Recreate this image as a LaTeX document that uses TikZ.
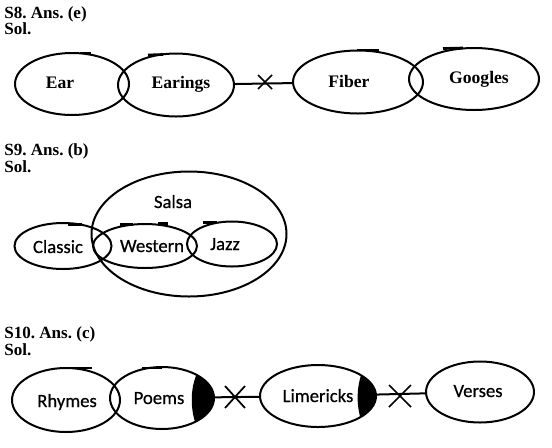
\documentclass[tikz,border=0pt]{standalone}
\usepackage{fontspec}
\setmainfont{Liberation Serif}
\newfontfamily\calib[FakeBold=0.6]{Carlito}
\usetikzlibrary{shapes.geometric}
\frenchspacing
\begin{document}
\begin{tikzpicture}[x=0.75pt,y=-0.75pt,
  ell/.style 2 args={draw, ellipse, line width=1.5pt, inner sep=0pt,
     minimum width=#1*0.75pt, minimum height=#2*0.75pt},
  head/.style={anchor=base west, inner sep=0pt, font=\bfseries\fontsize{12.8}{13}\selectfont},
  serlab/.style={anchor=base, inner sep=0pt, font=\bfseries\fontsize{13.2}{14}\selectfont},
  sanslab/.style={anchor=base, inner sep=0pt, font=\calib\fontsize{14}{15}\selectfont},
  link/.style={line width=1.5pt},
  cross/.style={line width=1.3pt},
  tick/.style={line width=2pt}]
\useasboundingbox (0,0) rectangle (552,447);

% ---------- S8 ----------
\node[head] (h8) at (4,18) {S8. Ans. (e)};
\node[head] (s8) at (4,34) {Sol.};
\node[ell={114}{62}] (ear) at (72,84) {};
\node[ell={116}{63}] (earings) at (176,85) {};
\node[ell={130}{63}] (fiber) at (358,82) {};
\node[ell={130}{62}] (googles) at (474,79) {};
\node[serlab] (earT) at (60,88) {Ear};
\node[serlab] (earingsT) at (181,88) {Earings};
\node[serlab] (fiberT) at (349,87) {Fiber};
\node[serlab] (googlesT) at (479,83) {Googles};
\draw[link] (earings) -- (fiber);
\coordinate (x8) at (265,82);
\draw[cross] (x8) ++(-7,-7) -- ++(14,14);
\draw[cross] (x8) ++(-7,7) -- ++(14,-14);
\draw[tick] (80,53) -- (91,53);
\draw[tick] (148,55) -- (163,54.5);
\draw[tick] (357,50) -- (379,50);
\draw[tick] (443,48.5) -- (463,48);

% ---------- S9 ----------
\node[head] (h9) at (4,155) {S9. Ans. (b)};
\node[head] (s9) at (4,172) {Sol.};
\node[ell={195}{125}] (salsa) at (189,234) {};
\node[ell={97}{46}] (classic) at (63,246) {};
\node[ell={104}{44}] (western) at (145,246) {};
\node[ell={90}{45}] (jazz) at (232,244) {};
\node[sanslab] (salsaT) at (173,208) {Salsa};
\node[sanslab] (classicT) at (58,253) {Classic};
\node[sanslab] (westernT) at (152,252) {Western};
\node[sanslab] (jazzT) at (225,250) {Jazz};
\draw[tick] (68,224.5) -- (82,224.5);
\draw[tick] (120,224.5) -- (133,224.5);
\draw[tick] (158,223.5) -- (168,223.5);
\draw[tick] (203,222.5) -- (217,222.5);

% ---------- S10 ----------
\node[head] (h10) at (4,338) {S10. Ans. (c)};
\node[head] (s10) at (4,355) {Sol.};
\node[ell={108}{64}] (rhymes) at (66,400) {};
\node[ell={104}{62}] (poems) at (162,398) {};
\node[ell={116}{62}] (limericks) at (318,396) {};
\node[ell={108}{61}] (verses) at (480,392) {};
\begin{scope}
  \clip (162,398) ellipse [x radius=52, y radius=31];
  \fill (201,366) .. controls (189,384) and (189,412) .. (199,432) -- (230,432) -- (230,366) -- cycle;
\end{scope}
\begin{scope}
  \clip (318,396) ellipse [x radius=58, y radius=31];
  \fill (366,364) .. controls (355,383) and (355,410) .. (365,430) -- (390,430) -- (390,364) -- cycle;
\end{scope}
\node[sanslab] (rhymesT) at (67,407) {Rhymes};
\node[sanslab] (poemsT) at (159,404) {Poems};
\node[sanslab] (limericksT) at (318,402) {Limericks};
\node[sanslab] (versesT) at (478,397) {Verses};
\draw[link] (poems) -- (limericks);
\draw[link] (limericks) -- (verses);
\coordinate (x10a) at (235,397);
\coordinate (x10b) at (400,396);
\draw[cross] (x10a) ++(-10,-11) -- ++(20,22);
\draw[cross] (x10a) ++(-10,11) -- ++(20,-22);
\draw[cross] (x10b) ++(-11,-11) -- ++(22,22);
\draw[cross] (x10b) ++(-11,11) -- ++(22,-22);
\draw[tick] (72,368) -- (92,368);
\draw[tick] (142,368) -- (162,368);
\end{tikzpicture}
\end{document}
